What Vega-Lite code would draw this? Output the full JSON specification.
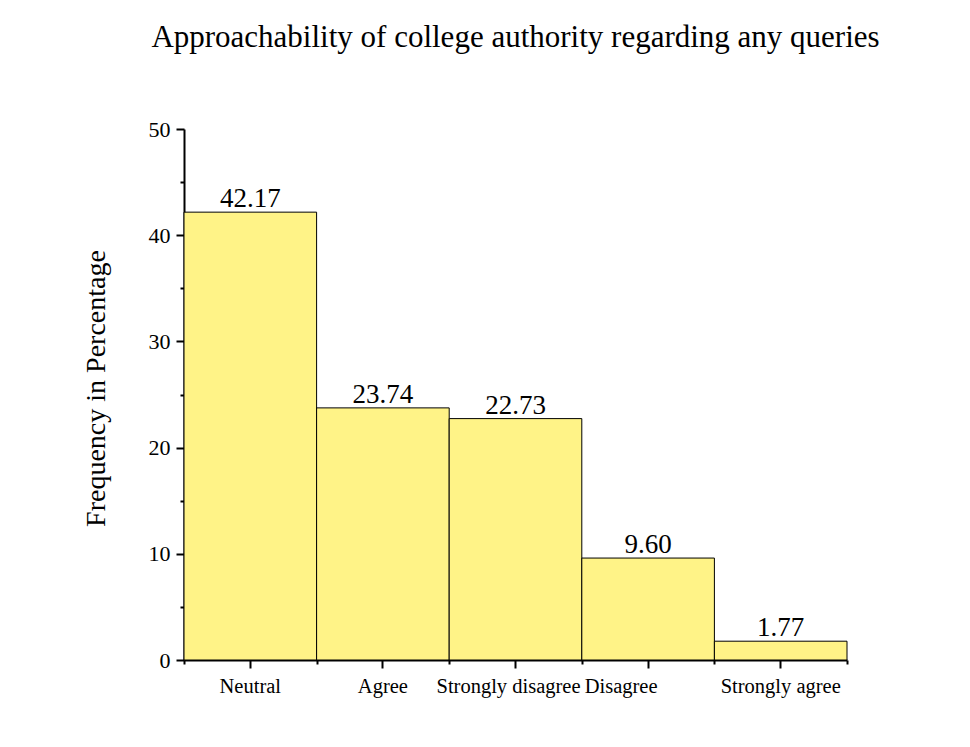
{
  "$schema": "https://vega.github.io/schema/vega-lite/v6.json",
  "autosize": {"type": "none"},
  "width": 663,
  "height": 531,
  "padding": {"left": 184, "top": 129, "right": 123, "bottom": 87},
  "background": "white",
  "config": {
    "view": {"stroke": null},
    "font": "Liberation Serif",
    "axis": {"labelFont": "Liberation Serif", "titleFont": "Liberation Serif", "labelColor": "black", "titleColor": "black", "domainColor": "black", "tickColor": "black", "grid": false}
  },
  "title": {
    "text": "Approachability of college authority regarding any queries",
    "font": "Liberation Serif",
    "fontSize": 31,
    "fontWeight": "normal",
    "color": "black",
    "anchor": "middle",
    "offset": 64
  },
  "data": {
    "values": [
      {"response": "Neutral", "pct": 42.17},
      {"response": "Agree", "pct": 23.74},
      {"response": "Strongly disagree", "pct": 22.73},
      {"response": "Disagree", "pct": 9.60},
      {"response": "Strongly agree", "pct": 1.77}
    ]
  },
  "encoding": {
    "x": {
      "field": "response",
      "type": "nominal",
      "sort": null,
      "scale": {"paddingInner": 0, "paddingOuter": 0}
    }
  },
  "layer": [
    {
      "mark": {"type": "bar", "fill": "#FFF387", "stroke": "black", "strokeWidth": 1},
      "encoding": {
        "x": {
          "field": "response",
          "type": "nominal",
          "sort": null,
          "axis": {
            "orient": "bottom",
            "title": null,
            "labelAngle": 0,
            "labelFontSize": 20.5,
            "labelPadding": 8,
            "tickSize": 8,
            "tickWidth": 2,
            "domainWidth": 2,
            "labelOffset": {"condition": [{"test": "datum.value === 'Disagree'", "value": -27}, {"test": "datum.value === 'Strongly disagree'", "value": -7}], "value": 0}
          }
        },
        "y": {
          "field": "pct",
          "type": "quantitative",
          "scale": {"domain": [0, 50], "nice": false},
          "axis": {
            "title": "Frequency in Percentage",
            "titleFontSize": 28,
            "titleFontWeight": "normal",
            "titlePadding": 38,
            "titleY": 259,
            "values": [0, 5, 10, 15, 20, 25, 30, 35, 40, 45, 50],
            "labelExpr": "datum.value % 10 === 0 ? datum.label : ''",
            "labelFontSize": 22,
            "labelPadding": 6,
            "tickSize": {"condition": {"test": "datum.value % 10 === 0", "value": 8}, "value": 4},
            "tickWidth": 2,
            "domainWidth": 2
          }
        }
      }
    },
    {
      "mark": {"type": "text", "baseline": "alphabetic", "dy": -5, "fontSize": 27, "font": "Liberation Serif", "color": "black"},
      "encoding": {
        "x": {
          "field": "response",
          "type": "nominal",
          "sort": null,
          "axis": {"orient": "bottom", "title": null, "labels": false, "domain": false, "tickBand": "extent", "tickSize": 4, "tickWidth": 2}
        },
        "y": {"field": "pct", "type": "quantitative"},
        "text": {"field": "pct", "type": "quantitative", "format": ".2f"}
      }
    }
  ],
  "resolve": {"axis": {"x": "independent"}}
}
